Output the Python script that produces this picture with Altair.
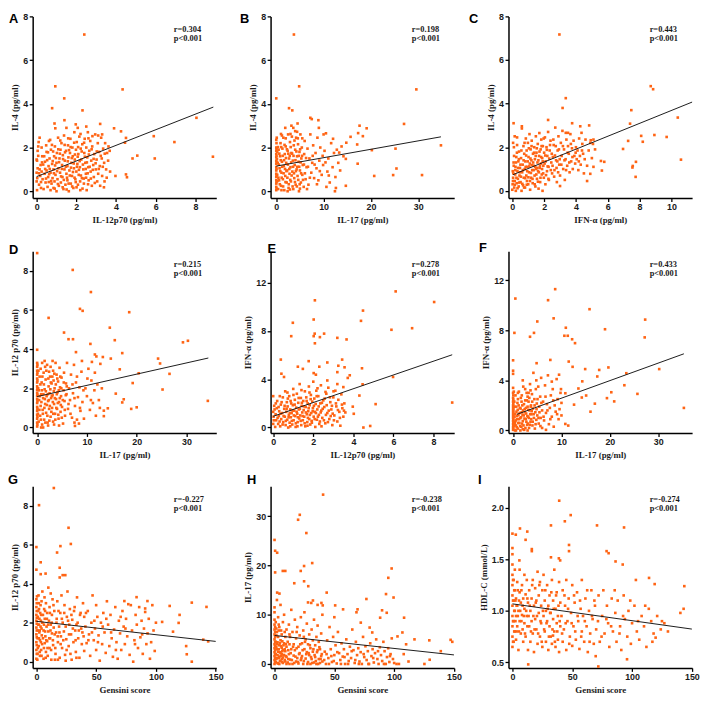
import altair as alt
import pandas as pd

ORANGE = "#ff6414"

letters = ["A", "B", "C", "D", "E", "F", "G", "H", "I"]
x_titles = ["IL-12p70 (pg/ml)", "IL-17 (pg/ml)", "IFN-α (pg/ml)",
            "IL-17 (pg/ml)", "IL-12p70 (pg/ml)", "IL-17 (pg/ml)",
            "Gensini score", "Gensini score", "Gensini score"]
y_titles = ["IL-4 (pg/ml)", "IL-4 (pg/ml)", "IL-4 (pg/ml)",
            "IL-12 p70 (pg/ml)", "IFN-α (pg/ml)", "IFN-α (pg/ml)",
            "IL-12 p70 (pg/ml)", "IL-17 (pg/ml)", "HDL-C (mmol/L)"]
r_labels = ["r=0.304", "r=0.198", "r=0.443", "r=0.215", "r=0.278", "r=0.433",
            "r=-0.227", "r=-0.238", "r=-0.274"]
p_label = "p<0.001"

x_domains = [[-0.2, 9.05], [-1.2, 37.6], [-0.24, 11.3], [-0.9, 36.0], [-0.13, 9.03],
             [-0.95, 37.0], [-3.1, 150.5], [-3.3, 150.2], [-3.3, 150.2]]
x_ticks = [[0, 2, 4, 6, 8], [0, 10, 20, 30], [0, 2, 4, 6, 8, 10], [0, 10, 20, 30],
           [0, 2, 4, 6, 8], [0, 10, 20, 30], [0, 50, 100, 150], [0, 50, 100, 150], [0, 50, 100, 150]]
y_domains = [[-0.31, 8], [-0.31, 8], [-0.33, 8], [-0.28, 9], [-0.45, 14.6], [-0.2, 14.3],
             [-0.32, 9], [-0.8, 36.1], [0.446, 2.21]]
y_ticks = [[0, 2, 4, 6, 8], [0, 2, 4, 6, 8], [0, 2, 4, 6, 8], [0, 2, 4, 6, 8], [0, 4, 8, 12],
           [0, 4, 8, 12], [0, 2, 4, 6, 8], [0, 10, 20, 30], [0.5, 1.0, 1.5, 2.0]]

# regression line end points
line_x = [[0, 8.9], [0, 34.8], [0.04, 11.3], [0, 34.4], [0, 8.93], [0.8, 35.3], [0, 150], [0, 150], [0, 150]]
line_y = [[0.67, 3.85], [1.15, 2.49], [0.74, 4.07], [1.58, 3.55], [0.93, 6.03], [1.29, 6.12],
          [2.07, 1.04], [5.79, 1.84], [1.068, 0.823]]

letter_dx = [-24, -31, -40, -24, -3, -30, -25, -24, -31]
letter_dy = [7, 7, 7, 3, 2, 1, -2, -2, -2]

A_pts = [(2.4,7.17),(0.94,4.8),(4.33,4.66),(1.39,4.25),(0.78,3.8),(2.31,3.7),(1.4,3.25),(8.05,3.36),(8.88,1.58),
 (6.94,2.25),(5.9,2.52),(5.95,1.5),(5.07,1.63),(4.83,1.5),(4.25,2.74),(3.9,2.88),(4.5,2.44),(4.45,2.22),(4.5,0.77),
 (4.55,0.64),(3.97,0.7),(3.39,0.18),(3.2,3.08),(1.97,3.06),(2.07,2.9),(0.9,3.1),(0.94,2.88),(2.5,2.96),
 (0.02,0.05),(0.0,0.45),(0.03,0.6),(0.0,0.85),(0.05,1.05),(0.02,1.4),(0.0,1.45),(0.08,2.05),(0.1,2.25),(0.15,2.45),
 (0.05,1.85),(0.12,0.3),(0.18,0.7),(0.2,1.2),(0.25,0.9),(0.22,0.15),(0.28,1.6),(0.3,0.55),(0.15,1.0),(0.25,2.0),
 (0.35,0.1),(0.4,0.8),(0.42,1.35),(0.45,0.4),(0.5,1.8),(0.5,0.95),(0.55,0.2),(0.58,0.65),(0.6,1.15),(0.62,2.3),
 (0.65,1.5),(0.7,0.05),(0.7,0.85),(0.72,1.9),(0.75,0.35),(0.78,1.25),(0.8,0.6),(0.38,1.6),(0.48,2.1),(0.68,2.35),
 (0.85,0.15),(0.85,1.0),(0.88,1.6),(0.9,0.45),(0.92,2.05),(0.95,0.75),(1.0,1.3),(1.0,0.0),(1.02,1.75),(1.05,0.55),
 (1.08,2.45),(1.1,1.05),(1.12,0.25),(1.15,1.5),(1.18,0.85),(1.2,1.9),(1.22,0.4),(1.25,2.2),(1.28,1.2),(1.3,0.65),
 (1.32,1.65),(1.35,0.1),(1.38,2.55),(1.4,1.0),(1.42,1.4),(1.45,0.3),(1.48,1.85),(1.5,0.8),(1.5,2.9),
 (1.55,1.15),(1.55,0.5),(1.58,2.1),(1.6,1.55),(1.62,0.0),(1.65,0.95),(1.68,1.75),(1.7,2.4),(1.72,0.35),(1.75,1.3),
 (1.78,0.7),(1.8,2.0),(1.82,1.6),(1.85,0.15),(1.88,1.05),(1.9,2.7),(1.92,1.45),(1.95,0.55),(1.98,1.9),(2.0,0.9),
 (2.02,2.25),(2.05,1.25),(2.08,0.3),(2.1,1.7),(2.12,0.75),(2.15,2.5),(2.18,1.1),(2.2,0.05),(2.22,1.95),(2.25,1.45),
 (2.28,0.6),(2.3,2.15),(2.35,1.0),(2.38,0.35),(2.4,1.75),(2.42,2.4),(2.45,1.3),(2.48,0.8),(2.5,2.0),(2.52,0.05),
 (2.55,1.55),(2.58,2.7),(2.6,1.1),(2.62,0.5),(2.65,1.85),(2.7,2.3),(2.72,0.9),(2.75,1.4),(2.78,0.25),(2.8,2.05),
 (2.85,1.2),(2.88,0.65),(2.9,1.7),(2.95,2.6),(2.98,1.0),(3.02,1.45),(3.05,0.45),(3.08,2.2),(3.1,0.8),(3.15,1.8),
 (3.18,1.15),(3.2,0.25),(3.25,2.45),(3.28,1.5),(3.3,0.7),(3.35,1.95),(3.4,1.3),(3.42,0.45),(3.45,2.2),(3.5,1.0),
 (3.55,1.75),(3.6,1.4),(3.62,2.05),(3.68,1.85),(3.7,0.9),(3.3,2.6),(3.1,2.55)]
A_more = [(0.33,1.22),(0.47,0.58),(0.53,1.42),(0.66,1.02),(0.73,0.47),(0.81,1.38),(0.87,0.82),(0.93,1.18),
 (0.97,1.52),(1.03,0.92),(1.07,0.33),(1.13,1.33),(1.17,1.72),(1.23,0.68),(1.27,1.02),(1.33,1.47),(1.37,0.52),
 (1.43,1.78),(1.47,1.12),(1.53,0.62),(1.57,1.37),(1.63,1.88),(1.67,0.72),(1.73,1.08),(1.77,1.52),(1.83,0.88),
 (1.87,1.27),(1.93,1.68),(1.97,0.42),(2.03,1.12),(2.07,1.58),(2.13,0.98),(2.17,1.38),(2.23,0.72),(2.27,1.82),
 (2.33,1.22),(2.37,0.58),(2.43,1.58),(2.47,1.02),(2.53,1.32),(2.57,0.82),(2.63,1.68),(2.67,1.12),(2.73,0.58),
 (2.77,1.92),(2.83,0.98),(2.87,1.48),(2.93,0.38),(2.97,1.28),(3.03,1.82),(3.13,1.02),(3.23,1.62),(3.33,1.12),
 (3.43,1.72),(3.53,0.62),(0.12,0.82),(0.08,1.62),(0.22,0.42),(0.27,1.32),(0.43,1.02),(0.57,1.78),(0.63,0.78),
 (0.77,2.12),(0.83,1.82),(1.09,1.92),(1.19,2.32),(1.41,2.12),(1.59,2.42),(1.71,2.02),(1.89,2.22),(2.09,2.02),
 (2.21,2.62),(2.39,2.22),(2.61,2.42),(2.81,2.52),(1.31,0.18),(1.51,0.08),(1.79,0.22),(2.01,0.18),(2.31,0.12),
 (2.59,0.32),(0.91,0.12),(0.61,0.42),(1.61,0.35),(1.91,0.62),(2.19,0.45),(2.49,0.62)]

B_pts = [(3.73,7.17),(4.84,4.8),(0.0,4.25),(2.7,3.8),(3.39,3.7),(29.6,4.66),(27.0,3.08),(7.2,3.36),(8.9,3.25),
 (34.8,2.1),(30.8,0.74),(25.4,1.04),(24.7,0.74),(20.7,0.7),(25.2,1.95),(20.2,1.88),(17.6,3.0),(19.1,2.88),
 (17.3,2.66),(18.3,2.52),(15.7,2.49),(17.1,2.14),(17.2,1.26),(14.8,2.22),(14.7,1.48),(12.6,0.15),(14.7,0.25),
 (10.6,0.2),(12.4,0.0),(13.3,1.77),
 (0,0.05),(0,0.2),(0,0.35),(0,0.5),(0,0.65),(0,0.8),(0,0.95),(0,1.1),(0,1.25),(0,1.4),(0,1.55),(0,1.7),(0,1.85),
 (0,2.0),(0,2.35),(0.1,2.45),(0.2,0.75),(0.3,1.3),(0.2,1.8),(0.4,0.1),
 (0.6,0.5),(0.7,1.05),(0.8,1.6),(0.9,2.2),(1.0,0.25),(1.1,0.85),(1.2,1.35),(1.3,1.95),(1.4,0.55),(1.5,2.45),
 (1.6,1.15),(1.7,0.05),(1.8,1.7),(1.9,0.7),(2.0,2.05),(2.1,1.3),(2.2,0.4),(2.3,0.95),(2.4,1.85),(2.5,2.6),
 (2.6,0.15),(2.7,1.5),(2.8,0.8),(2.9,2.25),(3.0,1.1),(0.5,1.9),(1.2,2.55),(1.9,2.9),(2.4,0.0),
 (3.1,0.45),(3.2,1.75),(3.3,2.5),(3.4,0.9),(3.5,1.4),(3.6,0.1),(3.7,2.1),(3.8,0.6),(3.9,1.2),(4.0,1.9),(4.1,0.3),
 (4.2,2.45),(4.3,1.0),(4.4,1.6),(4.5,0.7),(4.6,2.15),(4.7,1.35),(4.8,0.0),(4.9,1.8),(5.0,0.95),(5.1,2.6),(5.2,0.4),
 (5.3,1.5),(5.4,2.0),(5.5,0.75),(5.6,1.2),(5.8,0.2),(5.9,1.7),(6.0,2.3),(3.2,3.0),(4.0,2.75),(4.5,3.1),(3.6,2.9),
 (6.2,0.55),(6.4,1.1),(6.6,1.95),(6.8,0.3),(7.0,1.5),(7.2,2.6),(7.4,0.85),(7.6,1.3),(7.8,2.1),(8.0,0.6),(8.3,1.75),
 (8.5,1.05),(8.7,2.45),(8.9,0.5),(9.1,1.4),(9.3,2.0),(9.6,0.75),(9.9,1.2),(10.2,1.85),(10.5,2.65),(10.8,0.9),
 (11.0,1.5),(11.3,0.4),(11.6,2.2),(11.9,1.1),(12.2,1.75),(12.5,0.65),(12.8,1.9),(13.1,1.3),(13.5,0.95),(13.8,2.05),
 (14.2,1.6),(9.0,2.9),(10.0,2.6),(6.5,0.1),(7.5,3.3),(12.0,2.4)]
B_more = [(0.05,0.12),(0.05,0.42),(0.05,0.72),(0.05,1.02),(0.05,1.32),(0.05,1.62),(0.05,1.92),(0.05,2.2),
 (0.45,0.62),(0.55,1.22),(0.65,1.72),(0.75,0.32),(0.85,0.92),(0.95,1.42),(1.05,2.02),(1.15,0.62),(1.25,1.12),
 (1.35,1.62),(1.45,0.22),(1.55,0.82),(1.65,1.42),(1.75,2.12),(1.85,1.02),(1.95,0.42),(2.05,1.52),(2.15,0.92),
 (2.25,1.92),(2.35,0.62),(2.45,1.22),(2.55,1.72),(2.65,0.32),(2.75,1.02),(2.85,1.62),(2.95,0.52),(3.05,2.02),
 (3.15,1.32),(3.25,0.72),(3.35,1.72),(3.45,0.22),(3.55,1.12),(3.65,1.62),(3.75,0.82),(3.85,2.32),(3.95,0.42),
 (4.05,1.42),(4.15,0.92),(4.25,1.82),(4.35,0.22),(4.45,1.12),(4.55,2.42),(4.65,0.52),(4.75,1.62),(4.85,1.12),
 (4.95,0.32),(5.05,1.92),(5.15,1.32),(5.25,0.82),(5.45,1.62),(5.65,0.52),(5.85,1.22),(6.05,0.82),(6.3,1.52),
 (6.7,1.12),(7.1,0.62),(7.7,1.62),(8.1,1.22),(8.6,0.32),(9.2,0.92),(9.8,1.62),(10.4,1.32),(11.1,0.72),(0.35,2.02),
 (0.15,1.47),(0.25,0.47),(1.0,2.62),(2.0,2.42),(3.0,2.62),(4.4,2.72),(5.5,2.42),(1.1,0.05),(2.9,0.08),(5.0,0.12)]

C_pts = [(2.96,7.17),(3.36,4.25),(3.16,3.8),(8.7,4.8),(8.85,4.66),(7.48,3.7),(7.4,3.08),(10.4,3.36),(10.6,1.43),
 (9.7,2.47),(8.93,2.56),(8.1,2.52),(8.2,2.25),(7.28,2.29),(6.96,1.92),(7.77,1.33),(7.57,1.14),(7.55,1.07),
 (7.75,0.64),(3.76,3.1),(4.83,3.0),(4.27,2.96),(4.35,2.66),(3.36,2.66),(3.5,2.66),(5.57,1.37),(5.78,1.33),
 (5.63,0.93),(4.9,0.78),(5.07,2.15),(4.93,2.32),(0.08,3.1),(0.6,2.96),(0.6,2.86),(2.25,3.25),(3.0,0.22),
 (0.0,0.05),(0.02,0.3),(0.05,0.6),(0.03,0.9),(0.08,1.3),(0.1,2.0),(0.05,2.2),(0.12,0.15),(0.15,0.45),(0.18,0.75),
 (0.2,1.1),(0.22,0.0),(0.25,1.55),(0.28,0.35),(0.3,2.1),(0.32,0.9),(0.35,0.55),(0.38,1.35),(0.4,0.2),(0.42,1.8),
 (0.45,0.7),(0.48,1.05),(0.15,2.5),(0.3,2.45),
 (0.52,0.4),(0.55,1.5),(0.58,0.0),(0.62,0.85),(0.65,1.2),(0.68,0.25),(0.7,2.05),(0.72,0.6),(0.75,1.7),(0.78,1.0),
 (0.8,0.15),(0.82,1.35),(0.85,2.4),(0.88,0.7),(0.9,1.85),(0.92,0.45),(0.95,1.1),(0.98,2.2),(1.0,0.3),(1.02,1.55),
 (1.05,0.85),(1.08,2.6),(1.1,1.25),(1.12,0.05),(1.15,1.9),(1.18,0.6),(1.2,1.4),(1.22,2.3),(1.25,0.95),(1.28,0.35),
 (1.3,1.7),(1.35,1.15),(1.38,2.0),(1.4,0.7),(1.42,1.45),(1.45,0.2),(1.48,2.5),(1.5,1.0),
 (1.52,1.75),(1.55,0.55),(1.58,1.3),(1.6,2.15),(1.62,0.9),(1.65,0.1),(1.68,1.6),(1.7,2.65),(1.72,1.05),(1.75,0.4),
 (1.78,1.9),(1.8,1.25),(1.82,2.35),(1.85,0.75),(1.88,1.5),(1.9,0.0),(1.92,2.05),(1.95,1.15),(1.98,0.6),(2.0,1.75),
 (2.05,2.45),(2.08,0.3),(2.1,1.35),(2.15,2.0),(2.18,0.9),(2.2,1.6),(2.25,2.7),(2.28,1.1),(2.3,0.5),(2.35,1.85),
 (2.4,2.3),(2.45,1.3),(2.5,0.8),
 (2.55,1.55),(2.6,2.1),(2.65,0.95),(2.7,2.9),(2.75,1.4),(2.8,0.4),(2.85,1.85),(2.9,2.5),(2.95,1.2),(3.0,0.7),
 (3.05,2.2),(3.1,1.6),(3.15,2.75),(3.2,1.0),(3.25,1.9),(3.3,0.5),(3.35,1.45),(3.4,2.35),(3.45,1.15),(3.5,2.05),
 (3.55,1.7),(3.6,0.85),(3.65,2.6),(3.7,1.35),(3.75,1.95),(3.8,1.0),(3.85,2.3),(3.9,1.6),(3.95,1.25),(4.0,2.0),
 (4.05,1.45),(4.1,1.85),(4.15,0.95),(4.2,2.4),(4.25,1.6),(4.3,1.2),(4.4,2.15),(4.45,1.7),(4.5,0.8),(4.55,1.45),
 (4.6,2.35),(4.7,1.15),(4.8,1.85),(4.9,2.2),(5.0,1.5),(5.1,2.35),(5.2,1.9),(4.7,0.45),(5.1,1.1)]
C_more = [(0.04,0.45),(0.06,0.8),(0.09,1.15),(0.11,1.6),(0.16,0.28),(0.19,0.95),(0.23,1.3),(0.26,0.6),(0.29,1.75),
 (0.33,0.12),(0.36,1.05),(0.41,1.45),(0.44,0.38),(0.47,0.85),(0.51,1.2),(0.54,0.65),(0.57,1.85),(0.63,0.32),
 (0.66,0.95),(0.71,1.4),(0.74,0.15),(0.77,2.2),(0.81,0.58),(0.84,1.1),(0.87,1.62),(0.91,0.28),(0.94,0.9),
 (0.97,1.35),(1.01,0.62),(1.04,1.95),(1.07,1.12),(1.11,0.45),(1.14,1.48),(1.17,0.82),(1.21,2.05),(1.24,1.18),
 (1.27,0.55),(1.31,1.3),(1.34,0.95),(1.37,1.75),(1.41,0.3),(1.44,1.1),(1.47,1.6),(1.51,0.75),(1.54,1.95),
 (1.57,1.05),(1.61,0.42),(1.64,1.4),(1.67,0.85),(1.71,1.8),(1.74,1.15),(1.77,0.6),(1.81,1.55),(1.84,2.05),
 (1.87,1.0),(1.91,1.35),(1.94,0.8),(1.97,2.4),(2.03,1.25),(2.07,1.62),(2.12,0.72),(2.17,1.88),(2.22,1.12),
 (2.27,0.55),(2.32,1.48),(2.37,2.1),(2.42,0.95),(2.48,1.7),(2.53,1.15),(2.58,2.35),(2.63,0.65),(2.68,1.62),
 (2.73,2.05),(2.78,1.05),(2.83,1.35),(2.88,0.85),(2.93,1.9),(2.98,1.45),(3.08,1.2),(3.18,2.05),(3.28,1.4),
 (3.38,0.95),(3.48,1.75),(3.58,1.3),(3.68,2.15),(3.78,1.55),(3.98,1.75),(4.18,1.35),(4.38,1.85)]

D_pts = [(0.0,8.91),(7.15,8.05),(10.8,6.92),(8.6,6.06),(9.14,5.96),(18.5,5.89),(2.3,5.6),(14.6,5.1),(5.4,4.85),
 (6.3,4.51),(7.2,4.51),(15.6,4.46),(29.3,4.35),(30.3,4.43),(0.0,3.97),(7.8,3.85),(10.7,4.27),(17.1,3.8),(24.3,3.52),
 (24.7,3.27),(26.6,2.74),(20.4,2.77),(19.2,2.27),(34.3,1.36),(25.2,1.94),(20.0,1.03),(18.9,0.95),(17.1,1.28),
 (17.4,1.44),(15.8,1.73),(14.2,0.98),(13.4,0.86),(13.4,0.58),(16.6,2.97),(14.8,3.52),(11.6,3.73),(11.9,3.63),
 (13.2,3.6),(7.6,0.08),(7.5,0.25),
 (0,0.05),(0,0.25),(0,0.45),(0,0.65),(0,0.85),(0,1.05),(0,1.25),(0,1.45),(0,1.6),(0,1.75),(0,1.9),(0,2.1),(0,2.3),
 (0,2.5),(0,2.7),(0,2.9),(0,3.1),(0,3.3),(0.3,0.3),(0.4,1.4),(0.2,2.0),(0.5,2.6),
 (0.6,0.6),(0.7,1.1),(0.8,1.7),(0.9,2.3),(1.0,0.15),(1.1,0.9),(1.2,1.5),(1.3,2.8),(1.4,0.4),(1.5,1.95),(1.6,1.2),
 (1.7,2.45),(1.8,0.75),(1.9,1.6),(2.0,3.2),(2.1,0.25),(2.2,1.35),(2.3,2.1),(2.4,0.95),(2.5,1.75),(2.6,2.6),
 (2.7,0.55),(2.8,1.5),(2.9,2.25),(3.0,1.0),(0.7,3.0),(1.5,3.4),(2.4,2.85),(1.2,0.0),
 (3.1,1.65),(3.2,0.3),(3.3,2.4),(3.4,1.2),(3.5,2.0),(3.6,0.7),(3.7,3.3),(3.8,1.45),(3.9,2.7),(4.0,0.95),(4.1,1.8),
 (4.2,2.35),(4.3,0.45),(4.4,1.3),(4.5,3.05),(4.6,2.05),(4.7,0.8),(4.8,1.6),(4.9,2.55),(5.0,1.05),(5.2,0.2),
 (5.3,1.9),(5.4,2.8),(5.5,1.35),(5.6,0.6),(5.8,2.25),(5.9,1.7),(6.0,3.3),(3.2,2.9),(4.4,0.1),
 (6.2,0.95),(6.4,2.0),(6.6,1.4),(6.8,2.7),(7.0,0.5),(7.2,1.75),(7.4,3.2),(7.6,1.1),(7.8,2.3),(8.0,0.4),(8.2,1.55),
 (8.5,2.05),(8.7,0.85),(8.9,2.85),(9.1,1.3),(9.4,0.45),(9.7,2.0),(10.0,1.6),(10.3,3.0),(10.6,0.9),(10.9,2.4),
 (11.2,1.25),(11.5,1.9),(11.8,0.6),(12.1,2.2),(12.4,1.4),(12.7,3.25),(13.0,2.0),(11.0,3.35),(9.0,3.4),(8.4,0.2),
 (12.6,1.0)]
D_more = [(0.05,0.15),(0.05,0.55),(0.05,0.95),(0.05,1.35),(0.05,1.68),(0.05,2.0),(0.05,2.4),(0.05,2.8),(0.05,3.2),
 (0.45,0.9),(0.55,1.6),(0.65,2.2),(0.75,0.4),(0.85,1.3),(0.95,1.9),(1.05,2.6),(1.15,0.7),(1.25,1.7),(1.35,2.2),
 (1.45,1.0),(1.55,1.45),(1.65,0.25),(1.75,1.85),(1.85,2.9),(1.95,1.15),(2.05,0.6),(2.15,1.7),(2.25,2.5),(2.35,1.4),
 (2.45,0.35),(2.55,1.1),(2.65,1.95),(2.75,2.3),(2.85,0.8),(2.95,1.6),(3.05,2.6),(3.15,1.3),(3.25,0.7),(3.35,1.85),
 (3.45,2.75),(3.55,1.5),(3.65,0.4),(3.75,2.2),(3.85,1.0),(3.95,1.7),(4.05,2.5),(4.15,1.25),(4.25,0.65),(4.35,1.9),
 (4.55,1.5),(4.65,2.6),(4.75,1.15),(4.85,2.0),(4.95,0.5),(5.15,1.4),(5.35,2.3),(5.55,0.9),(5.75,1.65),(5.95,2.1),
 (6.3,1.2),(6.7,0.7),(7.1,2.2),(7.5,1.5),(8.0,2.6),(8.6,1.0),(9.3,1.9),(10.1,2.5),(10.8,1.4),(11.6,2.8),(0.35,1.9),
 (0.25,2.9),(0.15,0.7),(1.0,3.3),(2.7,3.1),(3.1,3.4),(1.6,3.1),(2.2,0.1),(3.4,0.15),(0.8,0.0)]

E_pts = [(6.11,11.28),(2.08,10.54),(8.03,10.4),(4.48,9.69),(2.02,8.95),(4.38,8.84),(0.98,8.68),(5.9,8.1),
 (6.93,8.23),(2.07,7.78),(2.54,7.78),(0.9,7.57),(2.02,7.57),(2.33,7.49),(3.2,7.43),(3.66,7.3),(2.08,6.98),
 (8.93,2.07),(5.98,4.19),(5.11,1.94),(4.43,4.91),(4.3,2.65),(4.46,3.58),(3.97,1.73),(4.02,1.14),(4.5,0.0),
 (4.84,0.13),(0.38,5.63),(0.41,4.46),(0.54,4.19),(3.44,5.63),(1.77,5.5),(2.7,5.39),(1.23,5.04),(2.3,5.04),
 (3.56,4.99),(3.25,5.12),(1.48,4.86),(2.02,4.51),(2.13,4.38),(3.82,4.33),(3.72,4.11),(3.2,4.59),
 (0.0,0.3),(0.02,0.9),(0.0,1.3),(0.05,1.8),(0.0,2.6),(0.1,0.05),(0.12,1.1),(0.15,0.6),(0.18,1.6),(0.2,2.2),
 (0.25,0.3),(0.28,0.95),(0.3,1.35),(0.35,0.1),(0.38,1.9),(0.4,0.7),(0.45,1.2),(0.48,2.5),(0.5,0.45),(0.55,1.55),
 (0.58,0.9),(0.6,3.0),
 (0.62,0.2),(0.65,1.3),(0.68,2.1),(0.7,0.65),(0.72,1.75),(0.75,0.0),(0.78,1.05),(0.8,2.6),(0.82,0.4),(0.85,1.5),
 (0.88,0.85),(0.9,2.0),(0.92,1.2),(0.95,0.25),(0.98,1.85),(1.0,3.2),(1.02,0.6),(1.05,1.4),(1.08,2.3),(1.1,0.95),
 (1.12,0.05),(1.15,1.65),(1.18,2.8),(1.2,1.15),(1.22,0.45),(1.25,2.05),(1.28,1.5),(1.3,0.75),(1.32,3.6),(1.35,1.0),
 (1.38,2.45),(1.4,0.2),(1.42,1.8),(1.45,1.25),(1.48,0.6),(1.5,2.2),
 (1.52,1.45),(1.55,0.9),(1.58,3.0),(1.6,0.1),(1.62,1.7),(1.65,2.5),(1.68,1.1),(1.7,0.45),(1.72,2.0),(1.75,1.35),
 (1.78,3.4),(1.8,0.7),(1.82,1.85),(1.85,0.25),(1.88,2.7),(1.9,1.2),(1.92,0.55),(1.95,2.15),(1.98,1.6),(2.0,3.8),
 (2.02,0.9),(2.05,2.4),(2.08,1.3),(2.1,0.05),(2.12,1.95),(2.15,3.05),(2.18,0.65),(2.2,1.5),(2.25,2.6),(2.28,1.05),
 (2.3,0.3),(2.35,2.0),(2.38,3.5),(2.4,1.4),(2.45,0.8),(2.5,2.25),
 (2.55,1.7),(2.6,0.35),(2.65,2.8),(2.7,1.2),(2.75,3.3),(2.8,0.7),(2.85,2.1),(2.9,1.5),(2.95,0.2),(3.0,2.5),
 (3.05,1.0),(3.1,3.05),(3.15,1.75),(3.2,0.5),(3.25,2.3),(3.3,1.3),(3.35,0.15),(3.4,2.75),(3.45,1.6),(3.5,0.9),
 (3.55,2.0),(3.6,1.25),(2.7,3.9),(3.2,3.6),(3.5,3.35)]
E_more = [(0.03,0.6),(0.07,1.5),(0.13,2.0),(0.22,0.8),(0.27,1.7),(0.32,0.5),(0.37,1.15),(0.42,2.1),(0.47,0.25),
 (0.52,0.95),(0.57,1.8),(0.63,0.55),(0.67,1.55),(0.73,2.4),(0.77,0.85),(0.83,1.2),(0.87,2.2),(0.93,0.55),(0.97,1.4),
 (1.03,1.0),(1.07,1.9),(1.13,0.35),(1.17,1.3),(1.23,0.85),(1.27,2.45),(1.33,1.55),(1.37,0.55),(1.43,2.05),
 (1.47,0.95),(1.53,1.75),(1.57,0.35),(1.63,1.25),(1.67,2.2),(1.73,0.8),(1.77,1.6),(1.83,1.05),(1.87,2.35),
 (1.93,0.4),(1.97,1.35),(2.03,1.8),(2.07,0.7),(2.13,1.2),(2.17,2.6),(2.23,0.9),(2.27,1.75),(2.33,0.5),(2.37,1.25),
 (2.43,2.05),(2.47,1.55),(2.53,0.6),(2.57,2.4),(2.63,1.05),(2.67,1.85),(2.73,0.45),(2.77,1.4),(2.83,2.5),
 (2.87,0.95),(2.93,1.8),(2.97,1.15),(3.03,0.6),(3.13,2.0),(3.23,1.45),(3.33,0.8),(3.43,1.9),(3.53,1.4),(1.01,2.7),
 (1.41,3.1),(1.81,2.9),(2.21,3.25),(2.61,2.95),(0.71,2.9),(3.01,3.0),(0.33,2.6),(1.21,0.1),(1.71,0.15),(2.41,0.1),
 (0.85,0.1)]

F_pts = [(8.7,11.28),(0.47,10.53),(7.23,10.4),(15.8,9.68),(8.38,8.95),(27.3,8.85),(5.0,8.7),(19.0,8.08),
 (10.9,8.2),(0.27,7.79),(4.32,7.79),(3.5,7.48),(10.6,7.56),(11.3,7.56),(12.2,7.28),(12.8,6.97),(27.2,7.43),
 (0.0,5.6),(7.7,5.63),(11.5,5.5),(4.86,5.37),(12.3,5.08),(19.7,5.03),(30.2,4.9),(14.9,4.9),(0.0,4.77),(0.0,4.52),
 (23.4,4.57),(17.8,4.83),(17.4,4.31),(35.3,1.8),(25.7,2.92),(23.0,3.61),(20.3,3.05),(20.9,2.32),(19.4,2.58),
 (16.9,2.14),(16.0,1.5),(15.1,2.79),(14.2,2.63),(14.3,3.92),(13.5,3.35),(10.8,2.97),(12.6,2.06),(10.8,0.52),
 (11.4,0.39),
 (0,0.05),(0,0.25),(0,0.5),(0,0.75),(0,1.0),(0,1.2),(0,1.4),(0,1.6),(0,1.8),(0,2.0),(0,2.3),(0,2.6),(0,3.0),(0,3.4),
 (0.2,0.35),(0.3,1.1),(0.4,0.7),(0.2,1.9),(0.5,2.8),(0.4,0.0),
 (0.6,0.4),(0.7,1.5),(0.8,0.9),(0.9,2.2),(1.0,0.15),(1.1,1.25),(1.2,3.1),(1.3,0.6),(1.4,1.8),(1.5,1.0),(1.6,2.6),
 (1.7,0.3),(1.8,1.45),(1.9,2.0),(2.0,0.75),(2.1,3.5),(2.2,1.2),(2.3,0.05),(2.4,1.7),(2.5,2.4),(2.6,0.9),(2.7,1.35),
 (2.8,3.0),(2.9,0.45),(3.0,1.9),(1.0,2.5),(2.0,4.0),(3.0,2.7),(1.5,0.0),
 (3.1,1.1),(3.2,2.3),(3.3,0.2),(3.4,1.6),(3.5,3.7),(3.6,0.7),(3.7,2.0),(3.8,1.3),(3.9,2.9),(4.0,0.4),(4.1,1.75),
 (4.2,4.6),(4.3,1.0),(4.4,2.5),(4.5,0.15),(4.6,1.45),(4.7,3.3),(4.8,0.85),(4.9,2.15),(5.0,1.2),(5.2,3.5),(5.3,0.55),
 (5.4,1.9),(5.6,2.7),(5.7,1.0),(5.8,4.2),(6.0,1.6),(6.0,0.2),(3.6,3.2),(4.8,4.0),
 (6.2,2.3),(6.4,0.8),(6.6,3.6),(6.8,1.4),(7.0,2.1),(7.2,4.4),(7.4,0.5),(7.6,1.8),(7.8,2.8),(8.0,1.1),(8.2,3.3),
 (8.4,0.3),(8.6,2.0),(8.8,1.5),(9.0,4.1),(9.2,2.5),(9.4,0.9),(9.6,1.7),(9.8,3.0),(10.0,2.2),(6.8,0.05),(8.0,3.9),
 (9.5,4.45),(10.0,1.2)]
F_more = [(0.05,0.15),(0.05,0.4),(0.05,0.65),(0.05,0.9),(0.05,1.1),(0.05,1.3),(0.05,1.5),(0.05,1.7),(0.05,1.9),
 (0.05,2.15),(0.05,2.45),(0.05,2.8),(0.35,0.5),(0.45,1.3),(0.55,0.8),(0.65,1.9),(0.75,0.25),(0.85,1.15),(0.95,1.65),
 (1.05,0.6),(1.15,2.0),(1.25,0.9),(1.35,1.4),(1.45,0.35),(1.55,1.75),(1.65,1.05),(1.75,2.3),(1.85,0.55),(1.95,1.25),
 (2.05,1.6),(2.15,0.4),(2.25,2.1),(2.35,0.95),(2.45,1.45),(2.55,0.2),(2.65,1.8),(2.75,0.7),(2.85,2.4),(2.95,1.15),
 (3.05,0.55),(3.15,1.65),(3.25,1.0),(3.35,2.6),(3.45,0.45),(3.55,1.3),(3.65,1.9),(3.75,0.9),(3.85,1.55),(3.95,2.3),
 (4.05,0.7),(4.25,1.3),(4.45,2.0),(4.65,0.5),(4.85,1.7),(5.05,2.5),(5.25,1.0),(5.45,1.45),(5.65,0.35),(5.85,2.2),
 (6.3,1.1),(6.7,2.7),(7.1,1.6),(7.7,0.9),(8.3,2.4),(9.1,1.3),(9.9,3.3),(0.25,2.3),(0.15,3.1),(1.0,3.0),(1.8,2.8),
 (2.5,3.3),(3.2,3.0),(0.6,0.0),(2.0,0.1),(3.0,0.0)]

G_pts = [(14.6,8.91),(2.2,8.03),(26.9,6.87),(28.8,6.04),(20.1,5.93),(17.3,5.6),(0.0,5.88),(3.6,5.1),(19.5,4.82),
 (3.6,4.49),(7.7,4.52),(19.5,4.32),(22.0,4.44),(24.2,4.44),(0.0,4.72),(130.0,3.03),(142.3,2.81),(139.6,1.13),
 (143.7,1.04),(130.0,0.0),(125.3,0.8),(125.8,0.38),(119.8,2.4),(111.5,2.86),(119.0,1.99),(114.3,1.54),
 (105.2,2.04),(91.0,2.73),(92.9,3.11),(83.8,3.31),(73.6,3.11),(76.9,2.95),
 (0,0.15),(0,0.6),(0,1.0),(0,1.4),(0,1.75),(0,2.1),(0,2.4),(0,2.8),(0,3.2),(0.5,3.35),(1,0.4),(1,1.2),(1.5,1.9),
 (1.5,2.6),(2,0.8),(2,3.0),(2.5,1.5),(2.5,2.2),(3,0.3),(3,1.1),(3.5,1.8),(3.5,2.9),(4,0.6),(4,2.4),(4.5,1.35),
 (5,3.6),(5,2.0),(4.8,0.9),
 (6,0.15),(6,1.6),(6.5,2.7),(7,0.95),(7,2.2),(7.5,1.3),(8,3.0),(8,0.5),(8.5,1.8),(9,2.5),(9,1.05),(9.5,0.3),
 (10,1.55),(10,3.8),(10.5,2.1),(11,0.7),(11,2.8),(11.5,1.2),(12,1.9),(12.5,0.1),(13,2.4),(13,1.45),(13.5,3.2),
 (14,0.85),(14.5,1.75),(15,2.6),
 (16,0.4),(16.5,1.5),(17,2.2),(17.5,3.1),(18,1.0),(19,1.8),(19.5,0.2),(20,2.5),(20.5,1.3),(21,3.4),(21.5,0.7),
 (22,2.0),(23,1.55),(23.5,2.9),(24,0.35),(25,1.15),(25.5,2.3),(26,3.6),(27,0.8),(27.5,1.9),(28,2.7),(29,1.4),
 (29.5,0.1),(30,2.15),(31,1.0),(32,2.8),(32.5,1.6),(33,0.5),(34,3.3),(34.5,2.0),(35,1.2),(36,0.2),(37,2.5),
 (37.5,1.7),(38,0.9),(39,3.0),(39.5,1.3),(40,0.55),(40,2.3),(18,0.1),
 (41,1.8),(42,0.95),(43,2.6),(44,1.4),(45,0.3),(46,2.0),(47,3.4),(48,1.1),(49,1.7),(50,2.9),(50,0.6),(51,2.3),
 (52,1.35),(53,0.05),(54,2.0),(55,0.9),(56,2.5),(57,1.5),(58,0.45),(59,3.1),(60,1.9),(61,0.8),(62,2.4),(63,1.2),
 (64,0.25),(65,1.65),(66,2.8),(67,1.0),(68,0.15),(69,2.1),(70,1.45),
 (71,0.6),(72,2.6),(73,1.8),(74,0.9),(75,2.2),(76,1.3),(78,0.35),(79,2.9),(80,1.6),(81,0.0),(82,1.1),(83,2.4),
 (84,1.9),(85,0.7),(86,2.8),(87,1.25),(88,2.1),(89,0.4),(90,1.7),(91,2.55),(92,0.9),(93,1.45),(94,2.2),(95,0.15),
 (96,1.0),(97,2.9),(98,1.6),(99,0.55),(100,2.0)]
G_more = [(0.3,0.4),(0.3,0.85),(0.3,1.25),(0.3,1.6),(0.3,1.95),(0.3,2.25),(0.3,2.6),(0.3,3.0),(1.2,0.7),(1.2,1.6),
 (1.2,2.3),(2.2,1.2),(2.2,1.9),(2.2,2.7),(2.8,0.5),(2.8,1.6),(3.2,2.5),(3.8,1.0),(3.8,2.1),(4.3,0.3),(4.3,1.7),
 (4.3,3.1),(5.5,1.2),(5.5,2.4),(6.3,0.7),(6.3,1.9),(7.3,1.55),(7.3,2.6),(8.3,1.1),(8.8,2.2),(9.3,0.7),(9.8,1.9),
 (10.8,1.2),(11.3,2.5),(11.8,1.6),(12.3,0.6),(12.8,2.0),(13.8,1.1),(14.3,2.9),(15.3,1.4),(15.8,0.7),(16.8,2.0),
 (17.8,1.3),(18.5,2.6),(19.3,1.5),(20.3,0.9),(21.3,2.2),(22.5,1.1),(23.3,2.5),(24.5,1.8),(25.3,0.6),(26.5,2.1),
 (27.3,1.4),(28.5,0.4),(29.3,2.4),(30.5,1.7),(31.5,2.6),(32.8,1.1),(33.5,1.9),(35.5,1.6),(36.5,2.4),(38.5,1.5),
 (41.5,2.5),(43.5,1.1),(46.5,1.5),(48.5,2.1),(51.5,1.0),(55.5,1.8),(58.5,2.2),(62.5,1.5),(66.5,0.6),(70.5,2.3),
 (74.5,1.7),(82.5,0.9),(88.5,1.4),(1.8,3.4),(6.8,3.3),(12,3.5),(0.8,0.1),(7.8,0.2),(15.5,0.1),(24.5,0.05),
 (33.5,0.2)]

H_pts = [(40.6,34.4),(21.1,30.3),(19.7,29.3),(26.6,26.6),(0.0,25.2),(0.5,23.0),(2.2,22.6),(0.5,18.6),(31.5,20.5),
 (24.7,19.9),(21.9,18.9),(6.9,18.9),(9.0,18.9),(97.9,19.4),(95.1,17.5),(24.7,16.8),(28.2,15.8),(16.5,16.4),
 (76.8,13.2),(99.5,13.5),(93.2,14.2),(43.6,14.5),(2.2,14.5),(4.1,14.3),(32.1,12.9),(30.7,12.4),(39.2,12.4),
 (40.3,11.9),(50.7,11.9),(57.3,11.1),(69.4,11.1),(68.5,10.5),(93.8,10.4),(89.9,10.9),(108.3,9.4),(88.3,9.4),
 (72.1,8.4),(79.5,7.4),(106.9,6.4),(81.7,6.4),(117.0,5.0),(102.8,5.6),(147.2,4.9),(148.6,4.5),(129.4,4.8),
 (139.0,2.6),(129.7,0.86),(125.3,0.0),
 (0,0.0),(0,0.8),(0,1.6),(0,2.4),(0,3.2),(0,4.0),(0,5.0),(0,6.0),(0,7.0),(0,8.0),(0,9.0),(0,10.5),(0,11.5),(1,0.4),
 (1,2.0),(1,4.5),(1,8.5),(2,1.2),(2,3.0),(2,6.5),(2,13.0),(3,0.1),(3,2.5),(3,5.5),(3,9.5),(4,1.5),(4,3.8),(4,7.5),
 (5,0.6),(5,2.2),(5,4.8),(5,12.0),(6,1.0),(6,3.3),(6,6.0),(7,0.2),(7,2.8),(7,8.5),(8,1.8),(8,4.2),(8,10.0),(9,0.5),
 (9,2.6),(9,5.5),(10,1.4),(10,3.5),(10,7.0),(10,0.0),(4,0.0),(7,1.3),(2,4.0),(6,2.0),
 (11,0.3),(11,4.5),(12,2.0),(12,8.0),(13,0.9),(13,5.5),(14,3.0),(14,11.0),(15,0.0),(15,6.5),(16,1.7),(16,4.0),
 (17,9.0),(17,2.8),(18,0.5),(18,5.2),(19,1.2),(19,7.5),(20,3.5),(20,0.1),(21,5.8),(21,2.2),(22,9.5),(22,0.8),
 (23,4.2),(23,1.6),(24,6.8),(24,0.0),(25,3.0),(25,10.5),(26,1.1),(26,5.0),(27,2.4),(27,8.2),(28,0.4),(28,4.0),
 (29,6.0),(29,1.8),(30,0.0),(30,3.2),(31,7.0),(31,1.0),(32,4.8),(32,2.5),(33,0.3),(33,9.0),(34,3.8),(34,1.4),
 (35,5.5),(35,0.0),(36,2.8),(36,7.8),(37,1.0),(37,4.5),(38,0.2),(38,3.0),(39,6.2),(39,1.6),(40,0.5),(40,10.0),
 (36,12.0),(28,12.5),
 (42,2.5),(43,0.0),(44,4.8),(45,1.2),(46,7.5),(47,3.0),(48,0.4),(49,5.5),(50,1.8),(50,9.5),(51,3.8),(52,0.1),
 (53,6.5),(54,2.2),(55,0.8),(56,4.2),(57,1.5),(58,3.0),(59,0.0),(60,5.0),(61,2.0),(62,0.6),(63,3.5),(64,1.2),
 (65,7.0),(66,2.8),(67,0.2),(68,4.5),(69,1.8),(70,3.2),(71,0.5),(72,2.4),(73,0.0),(74,5.5),(75,1.4),(76,3.6),
 (77,0.8),(78,2.6),(79,0.0),(80,4.2),(81,1.6),(82,3.0),(83,0.3),(84,2.2),(85,5.0),(86,1.0),(87,0.0),(88,3.4),
 (89,1.8),(90,0.6),(91,4.5),(92,2.6),(93,0.0),(94,1.4),(95,3.2),(96,0.4),(97,2.0),(98,5.2),(99,1.0),(100,0.2),
 (104,0.0),(108,2.0),(112,0.5),(110,4.0)]
H_more = [(0.5,0.4),(0.5,1.2),(0.5,2.0),(0.5,2.8),(0.5,3.6),(0.5,4.5),(0.5,5.5),(0.5,6.5),(0.5,7.5),(1.5,1.0),
 (1.5,3.4),(1.5,5.8),(2.5,0.2),(2.5,1.8),(2.5,4.4),(3.5,1.2),(3.5,3.0),(3.5,6.8),(4.5,0.6),(4.5,2.4),(4.5,4.2),
 (5.5,1.6),(5.5,3.6),(6.5,0.4),(6.5,2.6),(6.5,4.6),(7.5,1.8),(7.5,3.8),(8.5,0.8),(8.5,3.0),(9.5,1.6),(9.5,4.0),
 (11.5,1.0),(11.5,2.8),(12.5,0.0),(12.5,4.0),(13.5,2.2),(14.5,0.8),(15.5,3.5),(16.5,0.2),(17.5,1.5),(18.5,3.2),
 (19.5,0.4),(20.5,2.0),(21.5,4.0),(22.5,1.2),(23.5,2.8),(24.5,0.6),(25.5,4.5),(26.5,2.0),(27.5,0.0),(28.5,2.2),
 (29.5,3.8),(30.5,1.4),(31.5,0.2),(32.5,3.0),(33.5,1.8),(34.5,0.6),(35.5,2.4),(36.5,0.0),(37.5,3.4),(38.5,1.0),
 (39.5,2.0),(41.5,0.8),(43.5,2.0),(45.5,0.0),(47.5,1.6),(49.5,0.6),(52.5,2.4),(55.5,0.0),(58.5,1.4),(61.5,0.0),
 (64.5,2.6),(67.5,0.8),(70.5,0.0),(74.5,2.0),(78.5,0.0),(82.5,1.2),(86.5,2.6),(91.5,0.0),(96.5,1.6),(102,0.0),
 (1.5,7.2),(3.5,8.0),(5.5,6.8),(8.5,6.5),(12.5,6.0),(18.5,6.5),(24.5,5.5)]

I_pts = [(39.1,2.07),(48.7,1.93),(43.8,1.87),(32.2,1.83),(70.7,1.83),(93.3,1.81),(6.3,1.8),(0.0,1.75),(2.8,1.74),
 (12.4,1.77),(11.0,1.69),(0.0,1.61),(47.3,1.64),(47.3,1.58),(16.2,1.6),(16.2,1.58),(78.7,1.58),(80.4,1.56),
 (86.2,1.48),(92.2,1.45),(32.2,1.52),(38.8,1.51),(39.9,1.49),(5.8,1.49),(114.2,1.32),(103.2,1.3),(118.9,1.26),
 (143.7,1.24),(140.4,0.98),(143.1,1.02),(119.7,0.74),(95.8,0.53),(71.8,0.46),(69.6,0.56),(13.2,0.48),(33.9,0.76),
 (0,0.65),(0,0.75),(0,0.85),(0,0.95),(0,1.05),(0,1.15),(0,1.25),(0,1.35),(0,1.45),(0,1.55),(1,0.7),(1,0.9),
 (1,1.1),(1,1.3),(2,0.8),(2,1.0),(2,1.2),(2,1.4),(3,0.72),(3,0.95),(3,1.12),(4,0.85),(4,1.05),(4,1.28),(5,0.62),
 (5,1.0),(6,0.9),(6,1.18),(7,0.78),(7,1.08),(8,0.96),(8,1.25),(9,0.7),(9,1.12),(10,0.88),(10,1.02),(10,1.35),
 (6,1.4),
 (11,0.75),(11,1.16),(12,0.95),(12,1.3),(13,0.62),(13,1.08),(14,0.85),(14,1.2),(15,1.0),(15,0.7),(16,1.12),
 (16,0.9),(17,0.78),(17,1.3),(18,1.05),(18,0.6),(19,0.92),(19,1.22),(20,0.82),(20,1.1),(21,1.38),(21,0.68),
 (22,0.98),(22,1.15),(23,0.75),(23,1.28),(24,0.88),(24,1.05),(25,0.65),(25,1.2),(26,0.95),(26,1.35),(27,0.8),
 (27,1.1),(28,0.7),(28,1.0),(29,0.9),(29,1.25),(30,0.62),(30,1.05),(31,0.85),(31,1.15),(32,0.75),(32,0.98),
 (33,1.3),(33,0.68),(34,0.92),(34,1.1),(35,0.8),(35,1.4),(36,0.65),(36,1.02),(37,0.88),(37,1.18),(38,0.72),
 (38,0.95),(39,1.28),(39,0.6),(40,0.85),(40,1.08),
 (41,0.95),(42,0.7),(42,1.2),(43,0.82),(44,1.05),(45,0.62),(45,1.3),(46,0.9),(47,1.12),(48,0.75),(49,0.98),
 (50,1.25),(50,0.66),(51,0.85),(52,1.08),(53,0.72),(54,1.18),(55,0.9),(56,0.63),(57,1.02),(58,0.8),(58,1.3),
 (59,0.95),(60,0.7),(61,1.12),(62,0.85),(63,0.6),(64,1.0),(65,0.78),(66,1.2),(67,0.92),(68,0.68),(69,1.05),
 (70,0.82),
 (72,1.15),(73,0.7),(75,0.95),(76,1.2),(77,0.78),(79,1.05),(80,0.88),(81,0.65),(83,1.12),(84,0.8),(86,0.98),
 (87,0.7),(88,1.1),(90,0.85),(91,0.62),(93,1.15),(94,0.92),(96,0.75),(97,1.0),(99,0.68),(100,0.88),(102,1.05),
 (104,0.8),(106,0.72),(108,0.95),(110,0.85),(112,0.65),(114,1.02),(116,0.9),(118,0.78),(121,0.95),(124,0.82),
 (127,0.88),(130,0.8)]
I_more = [(0.5,0.7),(0.5,0.9),(0.5,1.1),(0.5,1.3),(1.5,0.8),(1.5,1.0),(1.5,1.2),(2.5,0.9),(2.5,1.1),(3.5,0.8),
 (3.5,1.05),(4.5,0.95),(4.5,1.2),(5.5,0.8),(5.5,1.1),(6.5,1.0),(7.5,0.9),(7.5,1.2),(8.5,0.82),(8.5,1.05),(9.5,0.95),
 (10.5,0.78),(11.5,1.0),(12.5,0.85),(12.5,1.12),(13.5,0.95),(14.5,1.05),(15.5,0.8),(16.5,1.25),(17.5,0.95),
 (18.5,0.82),(19.5,1.08),(20.5,0.95),(21.5,0.78),(22.5,1.25),(23.5,0.9),(24.5,0.7),(25.5,1.0),(26.5,0.82),
 (27.5,1.2),(28.5,0.88),(29.5,1.02),(30.5,0.75),(31.5,0.98),(32.5,1.18),(33.5,0.82),(34.5,1.02),(35.5,0.7),
 (36.5,1.15),(37.5,0.8),(38.5,1.05),(39.5,0.9),(41.5,0.78),(43.5,1.15),(44.5,0.88),(46.5,1.02),(47.5,0.68),
 (49.5,0.88),(51.5,1.15),(52.5,0.8),(54.5,0.95),(56.5,1.1),(57.5,0.75),(60.5,0.9),(62.5,1.2),(64.5,0.7),
 (66.5,0.95),(68.5,1.1),(71.5,0.9),(74.5,0.75),(78.5,0.92),(82.5,0.85),(85.5,1.2),(89.5,0.78),(92.5,0.95),
 (98.5,1.1),(105,0.9),(111,1.05),(117,0.7),(125,0.9)]

points = [A_pts + A_more, B_pts + B_more, C_pts + C_more, D_pts + D_more, E_pts + E_more,
          F_pts + F_more, G_pts + G_more, H_pts + H_more, I_pts + I_more]

W, H = 186, 184
SERIF = "Liberation Serif"
SANS = "Liberation Sans"


def make_panel(i):
    xs = alt.Scale(domain=x_domains[i], nice=False, zero=False)
    ys = alt.Scale(domain=y_domains[i], nice=False, zero=False)
    yfmt = ".1f" if i == 8 else "d"
    xax = alt.Axis(values=x_ticks[i], title=x_titles[i], format="d")
    yax = alt.Axis(values=y_ticks[i], title=y_titles[i], format=yfmt)
    df = pd.DataFrame(points[i], columns=["x", "y"])
    pts = alt.Chart(df).mark_square(size=7, color=ORANGE, opacity=1).encode(
        x=alt.X("x:Q", scale=xs, axis=xax),
        y=alt.Y("y:Q", scale=ys, axis=yax),
    )
    ldf = pd.DataFrame({"x": line_x[i], "y": line_y[i]})
    ln = alt.Chart(ldf).mark_line(color="#1a1a1a", strokeWidth=1).encode(
        x=alt.X("x:Q", scale=xs, axis=xax),
        y=alt.Y("y:Q", scale=ys, axis=yax),
    )
    one = pd.DataFrame({"k": [0]})
    letter = alt.Chart(one).mark_text(
        align="left", baseline="alphabetic", font=SANS, fontWeight="bold", fontSize=13, color="#000"
    ).encode(x=alt.value(letter_dx[i]), y=alt.value(letter_dy[i]), text=alt.value(letters[i]))
    rt = alt.Chart(one).mark_text(
        align="left", baseline="alphabetic", font=SERIF, fontWeight="bold", fontSize=8.5, color="#1a1a1a"
    ).encode(x=alt.value(143), y=alt.value(16), text=alt.value(r_labels[i]))
    pt = alt.Chart(one).mark_text(
        align="left", baseline="alphabetic", font=SERIF, fontWeight="bold", fontSize=8.5, color="#1a1a1a"
    ).encode(x=alt.value(143), y=alt.value(25), text=alt.value(p_label))
    return alt.layer(pts, ln, letter, rt, pt).properties(width=W, height=H)


chart = alt.concat(
    *[make_panel(i) for i in range(9)],
    columns=3,
    spacing={"row": 54, "column": 55},
    bounds="flush",
).properties(padding=0).configure_view(stroke=None).configure_axis(
    grid=False,
    domainColor="#000",
    domainWidth=1.5,
    tickColor="#000",
    tickWidth=1.3,
    tickSize=3.5,
    labelFont=SANS,
    labelFontWeight="bold",
    labelFontSize=9,
    labelColor="#1a1a1a",
    labelPadding=1.5,
    labelFlush=False,
    titleFont=SERIF,
    titleFontWeight="bold",
    titleFontSize=9,
    titleColor="#1a1a1a",
).configure_axisX(titlePadding=4).configure_axisY(titlePadding=3)

chart.save("out.html", embed_options={"renderer": "svg", "actions": False})
